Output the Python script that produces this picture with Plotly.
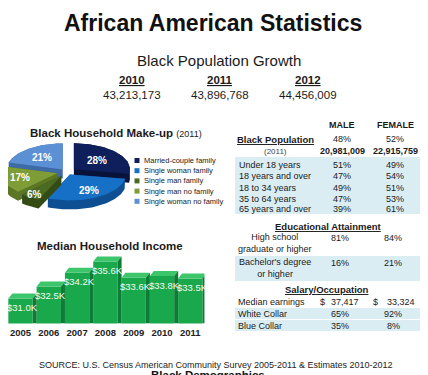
import numpy as np
import plotly.graph_objects as go

FONT = "Liberation Sans, Arial, sans-serif"
W, H = 428, 375          # browser window
OFF = 8                  # default page body margin
FW, FH = W - OFF, H - OFF

# ---------------- data ----------------
main_title = "African American Statistics"
growth_title = "Black Population Growth"
pop_years = ["2010", "2011", "2012"]
pop_totals = ["43,213,173", "43,896,768", "44,456,009"]

hh_title = "Black Household Make-up"
hh_year = "(2011)"
hh_labels = ["Married-couple family", "Single woman family", "Single man family",
             "Single man no family", "Single woman no family"]
hh_pct = [28, 29, 6, 17, 21]

inc_title = "Median Household Income"
inc_years = ["2005", "2006", "2007", "2008", "2009", "2010", "2011"]
inc_k = [31.0, 32.5, 34.2, 35.6, 33.6, 33.8, 33.5]

sex_header = ["MALE", "FEMALE"]
pop_share = ["48%", "52%"]
pop_count = ["20,981,009", "22,915,759"]
age_groups = ["Under 18 years", "18 years and over", "18 to 34 years",
              "35 to 64 years", "65 years and over"]
age_male = ["51%", "47%", "49%", "47%", "39%"]
age_female = ["49%", "54%", "51%", "53%", "61%"]
edu_labels = ["High school<br>graduate or higher", "Bachelor's degree<br>or higher"]
edu_male = ["81%", "16%"]
edu_female = ["84%", "21%"]
earn_label = "Median earnings"
earn_male = "37,417"
earn_female = "33,324"
occ_labels = ["White Collar", "Blue Collar"]
occ_male = ["65%", "35%"]
occ_female = ["92%", "8%"]
source_text = "SOURCE: U.S. Census American Community Survey 2005-2011 & Estimates 2010-2012"
footer_text = "Black Demographics"

# ---------------- styles ----------------
hh_top = ["#0e1f5b", "#1670c6", "#4c6b22", "#7e9d36", "#5c90d4"]
hh_side = ["#08123a", "#0e4f93", "#344b16", "#5b7624", "#3e6aa6"]
hh_explode = [9, 6, 10, 10, 7]
hh_labfrac = [0.55, 0.7, 0.85, 0.7, 0.6]
BAND = "#daedf3"
TXT = "#1a1a1a"

fig = go.Figure()
ann = []
shapes = []


def txt(x, y, s, size, color=TXT, xanchor="center", yanchor="middle", align="center"):
    ann.append(dict(x=x, y=y, xref="x2", yref="y2", text=s, showarrow=False,
                    font=dict(size=size, color=color, family=FONT),
                    xanchor=xanchor, yanchor=yanchor, align=align))


def hull(pts):
    pts = sorted(set(pts))
    if len(pts) < 3:
        return pts

    def cross(o, a, b):
        return (a[0] - o[0]) * (b[1] - o[1]) - (a[1] - o[1]) * (b[0] - o[0])
    lower, upper = [], []
    for p in pts:
        while len(lower) >= 2 and cross(lower[-2], lower[-1], p) <= 0:
            lower.pop()
        lower.append(p)
    for p in reversed(pts):
        while len(upper) >= 2 and cross(upper[-2], upper[-1], p) <= 0:
            upper.pop()
        upper.append(p)
    return lower[:-1] + upper[:-1]


def pxx(x):
    return (x - OFF) / FW


def pyy(y):
    return 1 - (y - OFF) / FH


# ---------------- header ----------------
txt(213, 23, f"<b>{main_title}</b>", 23, color="#111")
txt(219, 60, growth_title, 15)
for i, (yr, val) in enumerate(zip(pop_years, pop_totals)):
    xc = 132 + 88 * i
    txt(xc, 80, f"<b><u>{yr}</u></b>", 11.5)
    txt(xc, 95, val, 11.5)

# ---------------- pie (3D look) ----------------
txt(28, 133, f"<b>{hh_title}</b> <span style='font-size:9px'>{hh_year}</span>", 11.5,
    xanchor="left")
cx, cy, rx, ry, depth = 67, 172, 56, 26, 9
cum = np.concatenate([[0], np.cumsum(hh_pct)]) / np.sum(hh_pct) * 360
slices = []
for k in range(len(hh_pct)):
    a0, a1 = np.radians(cum[k]), np.radians(cum[k + 1])
    t = np.linspace(a0, a1, 48)
    bis = (a0 + a1) / 2
    ox = hh_explode[k] * np.sin(bis)
    oy = -hh_explode[k] * np.cos(bis) * ry / rx
    px = np.concatenate([[cx + ox], cx + ox + rx * np.sin(t)])
    py = np.concatenate([[cy + oy], cy + oy - ry * np.cos(t)])
    f = hh_labfrac[k]
    lx = cx + ox + f * rx * np.sin(bis)
    ly = cy + oy - f * ry * np.cos(bis)
    slices.append((np.mean(py), k, px, py, lx, ly))

for _, k, px, py, lx, ly in sorted(slices, key=lambda s: s[0]):
    pts = [(float(a), float(b)) for a, b in zip(px, py)] + \
          [(float(a), float(b) + depth) for a, b in zip(px, py)]
    h = hull(pts)
    hx = [p[0] for p in h] + [h[0][0]]
    hy = [p[1] for p in h] + [h[0][1]]
    fig.add_trace(go.Scatter(x=hx, y=hy, xaxis="x2", yaxis="y2", mode="lines",
                             fill="toself", fillcolor=hh_side[k], line=dict(width=0),
                             hoverinfo="skip", showlegend=False))
    fig.add_trace(go.Scatter(x=list(px) + [px[0]], y=list(py) + [py[0]], xaxis="x2", yaxis="y2",
                             mode="lines", fill="toself", fillcolor=hh_top[k],
                             line=dict(width=0), hoverinfo="skip", showlegend=False))

for _, k, px, py, lx, ly in slices:
    txt(lx, ly, f"<b>{hh_pct[k]}%</b>", 10, color="white")

# legend
for k, lab in enumerate(hh_labels):
    yy = 160.5 + 10.2 * k
    fig.add_trace(go.Scatter(x=[137], y=[yy], xaxis="x2", yaxis="y2", mode="markers",
                             marker=dict(symbol="square", size=5, color=hh_top[k]),
                             hoverinfo="skip", showlegend=False))
    txt(142, yy, lab, 7.5, color="#222", xanchor="left")

# ---------------- income bars ----------------
txt(110, 246, f"<b>{inc_title}</b>", 11.5)
xs = list(range(len(inc_k)))
bw = 0.86
base = 27.9
px_per_unit_x = 28.3
px_per_k = 8.04
first_center_px = 20.5
ddx = 4 / px_per_unit_x
ddy = 5 / px_per_k
left_px = max(OFF, first_center_px - 0.5 * px_per_unit_x)
right_px = first_center_px + 6.5 * px_per_unit_x
x_lo = (left_px - first_center_px) / px_per_unit_x
x_hi = (right_px - first_center_px) / px_per_unit_x

fig.add_trace(go.Bar(x=xs, y=inc_k, width=bw, marker=dict(color="#1aa84c", line=dict(width=0)),
                     hoverinfo="skip", showlegend=False))
for i, v in zip(xs, inc_k):
    l, r = i - bw / 2, i + bw / 2
    fig.add_trace(go.Scatter(x=[l, r, r + ddx, l + ddx, l], y=[v, v, v + ddy, v + ddy, v],
                             mode="lines", fill="toself", fillcolor="#3cc56a", line=dict(width=0),
                             hoverinfo="skip", showlegend=False))
    fig.add_trace(go.Scatter(x=[r, r + ddx, r + ddx, r, r], y=[v, v + ddy, base, base, v],
                             mode="lines", fill="toself", fillcolor="#0d7c35", line=dict(width=0),
                             hoverinfo="skip", showlegend=False))
    ann.append(dict(x=i, y=v, xref="x", yref="y", text=f"${v:.1f}K", showarrow=False,
                    font=dict(size=9.5, color="#f2fbf4", family=FONT), yshift=-9, xshift=2))

# ---------------- table ----------------
MX, FX = 342, 395
txt(MX, 125, f"<b>{sex_header[0]}</b>", 9)
txt(FX, 125, f"<b>{sex_header[1]}</b>", 9)
txt(275, 139, "<b><u>Black Population</u></b>", 9.5)
txt(MX, 139, pop_share[0], 9)
txt(FX, 139, pop_share[1], 9)
txt(275, 151, hh_year, 8, color="#444")
txt(MX, 151, f"<b>{pop_count[0]}</b>", 9)
txt(FX, 151, f"<b>{pop_count[1]}</b>", 9)

shapes.append(dict(type="rect", xref="x2", yref="y2", x0=235, x1=425, y0=157, y1=214,
                   fillcolor=BAND, line=dict(width=0), layer="below"))
age_y = [164.5, 176, 187.5, 198.5, 209]
for lab, m, f_, yy in zip(age_groups, age_male, age_female, age_y):
    txt(237, yy, lab, 9, xanchor="left")
    txt(MX, yy, m, 9)
    txt(FX, yy, f_, 9)

txt(328, 226, "<b><u>Educational Attainment</u></b>", 9.5)
edu_y = [243, 268]
shapes.append(dict(type="rect", xref="x2", yref="y2", x0=235, x1=425, y0=256, y1=281,
                   fillcolor=BAND, line=dict(width=0), layer="below"))
for lab, m, f_, yy in zip(edu_labels, edu_male, edu_female, edu_y):
    txt(275, yy, lab, 9)
    txt(MX - 2, yy - 5, m, 9)
    txt(FX - 2, yy - 5, f_, 9)

txt(327, 289, "<b><u>Salary/Occupation</u></b>", 9.5)
txt(236, 302, earn_label, 9, xanchor="left")
txt(322, 302, "$", 9)
txt(361, 302, earn_male, 9, xanchor="right")
txt(375, 302, "$", 9)
txt(417, 302, earn_female, 9, xanchor="right")
shapes.append(dict(type="rect", xref="x2", yref="y2", x0=235, x1=425, y0=308, y1=331,
                   fillcolor=BAND, line=dict(width=0), layer="below"))
shapes.append(dict(type="line", xref="x2", yref="y2", x0=235, x1=425, y0=319.5, y1=319.5,
                   line=dict(color="white", width=1), layer="below"))
for lab, m, f_, yy in zip(occ_labels, occ_male, occ_female, [314, 326]):
    txt(236, yy, lab, 9, xanchor="left")
    txt(MX - 2, yy, m, 9)
    txt(FX - 2, yy, f_, 9)

# ---------------- footer ----------------
txt(216, 365, source_text, 9, color="#222")
txt(208, 366.5, f"<b>{footer_text}</b>", 11.5, color="#111", yanchor="top")

fig.update_layout(
    width=FW, height=FH, autosize=False,
    margin=dict(l=0, r=0, t=0, b=0, pad=0),
    paper_bgcolor="white", plot_bgcolor="rgba(0,0,0,0)",
    showlegend=False,
    annotations=ann, shapes=shapes,
    xaxis=dict(domain=[pxx(left_px), pxx(right_px)],
               range=[x_lo, x_hi], tickvals=xs, ticktext=[f"<b>{y}</b>" for y in inc_years],
               tickfont=dict(size=9.5, color="#222", family=FONT), showgrid=False,
               zeroline=False, showline=False, ticks="", ticklabelstandoff=2, fixedrange=True),
    yaxis=dict(domain=[pyy(323.5), pyy(240)], range=[base, base + 83.5 / px_per_k],
               visible=False, fixedrange=True),
    xaxis2=dict(domain=[0, 1], range=[OFF, W], visible=False, anchor="y2", fixedrange=True),
    yaxis2=dict(domain=[0, 1], range=[H, OFF], visible=False, anchor="x2", fixedrange=True),
)

fig.write_html("out.html")
